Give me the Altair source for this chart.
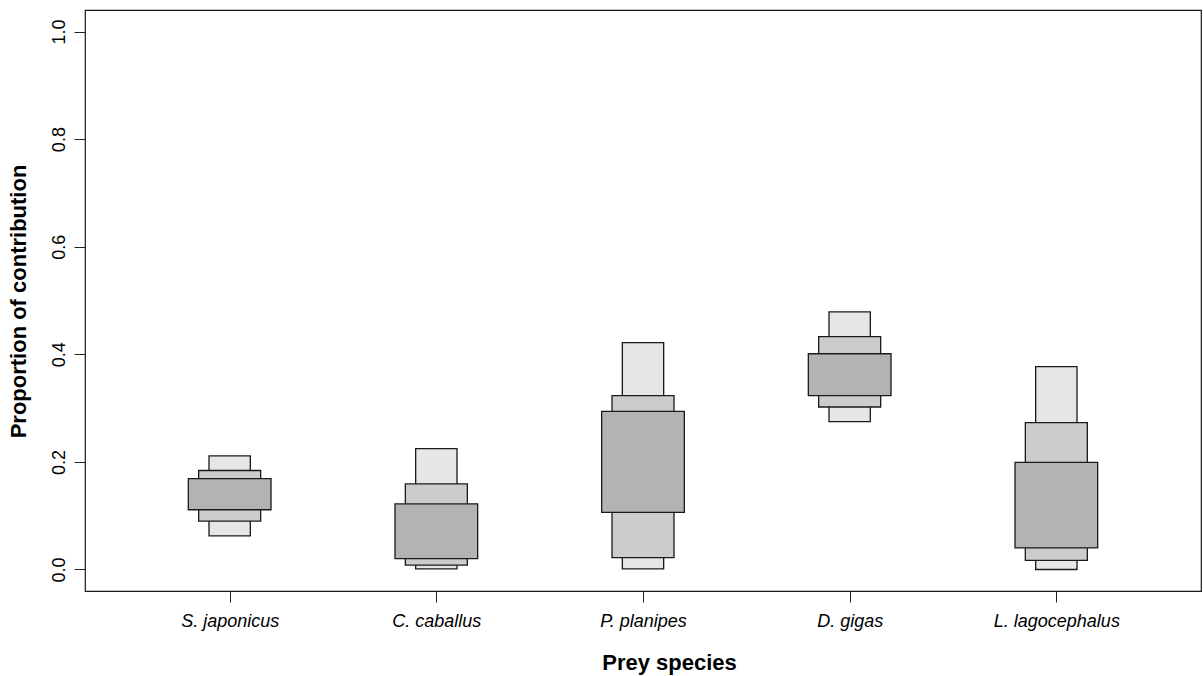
import altair as alt
import pandas as pd

species = ["S. japonicus", "C. caballus", "P. planipes", "D. gigas", "L. lagocephalus"]
lo95 = [0.0625, 0.001, 0.001, 0.275, 0.000]
hi95 = [0.211, 0.2245, 0.4217, 0.479, 0.377]
lo75 = [0.090, 0.008, 0.022, 0.302, 0.017]
hi75 = [0.184, 0.159, 0.323, 0.433, 0.273]
lo50 = [0.111, 0.020, 0.106, 0.323, 0.040]
hi50 = [0.169, 0.122, 0.294, 0.401, 0.199]

levels = [("95", lo95, hi95), ("75", lo75, hi75), ("50", lo50, hi50)]
half_width = {"95": 0.1, "75": 0.15, "50": 0.2}
fills = {"95": "#e6e6e6", "75": "#cccccc", "50": "#b3b3b3"}

rows = []
for lev, lo, hi in levels:
    for i, sp in enumerate(species):
        rows.append({"idx": i + 1, "species": sp, "level": lev, "lo": lo[i], "hi": hi[i]})
df = pd.DataFrame(rows)

W, H = 1116, 581
label_expr = "[" + ",".join("'%s'" % s for s in species) + "][datum.value - 1]"

xscale = alt.Scale(domain=[0.3, 5.7], nice=False, zero=False)
yscale = alt.Scale(domain=[-0.04, 1.04], nice=False, zero=False)

xaxis = alt.Axis(values=[1, 2, 3, 4, 5], labelExpr=label_expr, title="Prey species",
                 domain=False, grid=False, ticks=True, tickSize=11, tickColor="#222",
                 tickWidth=1, labelFont="Liberation Sans", labelFontStyle="italic",
                 labelFontSize=18, labelColor="black", labelPadding=10,
                 labelBaseline="top", labelAlign="center",
                 titleFont="Liberation Sans", titleFontWeight="bold", titleFontSize=22,
                 titleColor="black", titleX=584, titleY=71, titleBaseline="middle",
                 titleAlign="center")
yaxis = alt.Axis(values=[0, 0.2, 0.4, 0.6, 0.8, 1.0], format=".1f",
                 title="Proportion of contribution", domain=False, grid=False,
                 tickSize=11, tickColor="#222", tickWidth=1, labelFont="Liberation Sans",
                 labelFontSize=18, labelColor="black", labelAngle=-90, labelAlign="center",
                 labelBaseline="alphabetic", labelPadding=10,
                 titleFont="Liberation Sans", titleFontWeight="bold", titleFontSize=22,
                 titleColor="black", titleAngle=-90, titleX=-67, titleY=291,
                 titleBaseline="middle", titleAlign="center")

layers = []
for lev, _, _ in levels:
    hw = half_width[lev]
    layer = alt.Chart(df).transform_filter(
        alt.datum.level == lev
    ).transform_calculate(
        x1="datum.idx - %f" % hw, x2="datum.idx + %f" % hw
    ).mark_rect(fill=fills[lev], stroke="#1a1a1a", strokeWidth=1.3).encode(
        x=alt.X("x1:Q", scale=xscale, axis=xaxis),
        x2="x2:Q",
        y=alt.Y("lo:Q", scale=yscale, axis=yaxis),
        y2="hi:Q",
    )
    layers.append(layer)

chart = alt.layer(*layers).properties(
    width=W, height=H,
    autosize=alt.AutoSizeParams(type="none"),
    padding={"left": 85, "top": 10, "right": 2, "bottom": 85},
    background="white",
).configure_view(stroke="#1a1a1a", strokeWidth=1.2)

chart.save("out.html", embed_options={"renderer": "svg", "actions": False})
